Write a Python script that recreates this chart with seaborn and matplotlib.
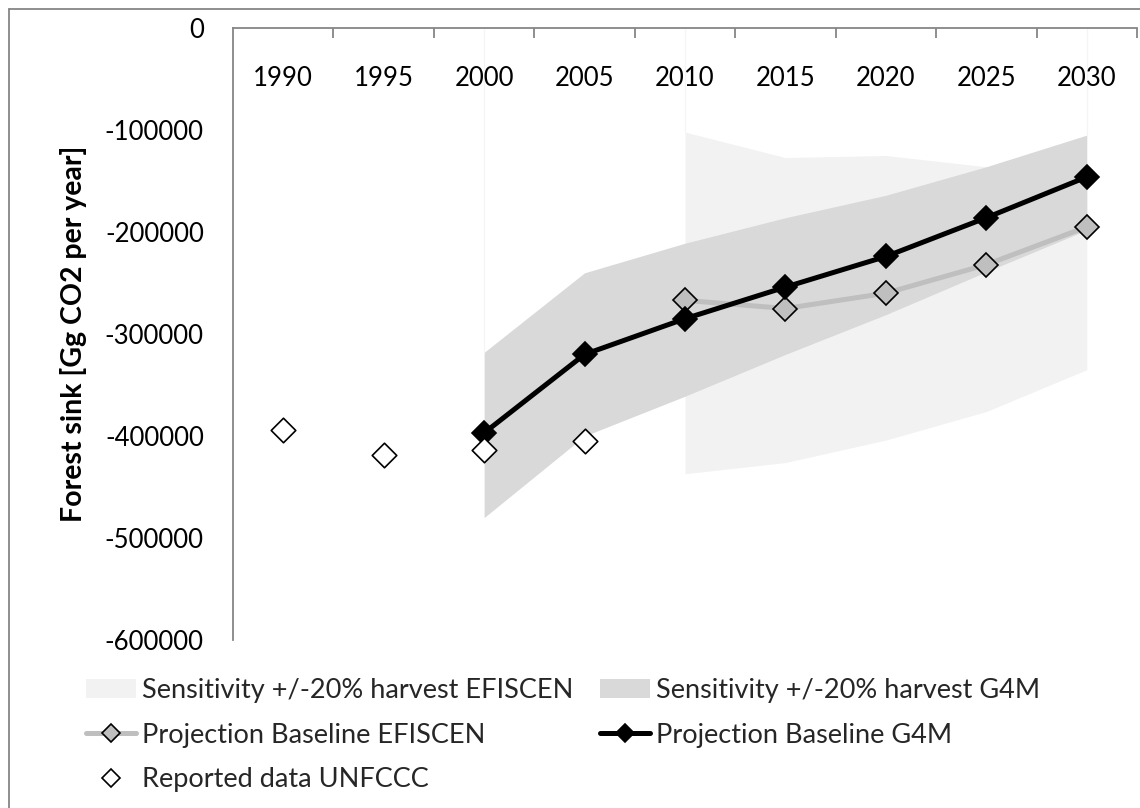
import numpy as np
import pandas as pd
import matplotlib
matplotlib.use("Agg")
import matplotlib.pyplot as plt
import seaborn as sns
from matplotlib.lines import Line2D
from matplotlib.patches import Patch
from matplotlib.ticker import FuncFormatter

# ---------------- data ----------------
years = ["1990", "1995", "2000", "2005", "2010", "2015", "2020", "2025", "2030"]
nan = np.nan
g4m_baseline = [nan, nan, -397000, -320000, -285000, -254000, -224000, -186000, -146000]
efiscen_baseline = [nan, nan, nan, nan, -267000, -275000, -260000, -232000, -195000]
unfccc_reported = [-394000, -419000, -414000, -405000, nan, nan, nan, nan, nan]
g4m_band_high = [nan, nan, -318000, -240000, -211000, -186000, -164000, -136000, -105000]
g4m_band_low = [nan, nan, -480000, -400000, -361000, -320000, -281000, -239000, -198000]
efiscen_band_high = [nan, nan, nan, nan, -102000, -127000, -125000, -136000, -140000]
efiscen_band_low = [nan, nan, nan, nan, -437000, -426000, -404000, -376000, -335000]

y_ticks = [0, -100000, -200000, -300000, -400000, -500000, -600000]

lbl_sens_ef = "Sensitivity +/-20% harvest EFISCEN"
lbl_sens_g4m = "Sensitivity +/-20% harvest G4M"
lbl_proj_ef = "Projection Baseline EFISCEN"
lbl_proj_g4m = "Projection Baseline G4M"
lbl_rep = "Reported data UNFCCC"
y_title = "Forest sink [Gg CO2 per year]"

# ---------------- style ----------------
sns.set_theme(style="white")
plt.rcParams["font.family"] = ["Lato", "DejaVu Sans"]

W, H = 1140, 808
fig = plt.figure(figsize=(W / 100, H / 100), dpi=100)
ax = fig.add_axes([233 / W, 1 - 640 / H, (1137 - 233) / W, (640 - 28) / H])

x = np.arange(len(years))
df = pd.DataFrame({
    "x": x, "year": years,
    "g4m": g4m_baseline, "efiscen": efiscen_baseline, "unfccc": unfccc_reported,
    "g4m_hi": g4m_band_high, "g4m_lo": g4m_band_low,
    "ef_hi": efiscen_band_high, "ef_lo": efiscen_band_low,
})

C_LIGHT = "#F2F2F2"
C_DARK = "#D9D9D9"
C_EFLINE = "#BFBFBF"
C_AXIS = "#868686"

# bands
ax.fill_between(df["x"], df["ef_lo"], df["ef_hi"], color=C_LIGHT, lw=0, zorder=1)
ax.fill_between(df["x"], df["g4m_lo"], df["g4m_hi"], color=C_DARK, lw=0, zorder=2)

# faint edges of the band areas (Excel artefact)
ef_ok = df.dropna(subset=["ef_hi"])
g4_ok = df.dropna(subset=["g4m_hi"])
ax.vlines([g4_ok["x"].iloc[0]], g4_ok["g4m_hi"].iloc[0], 0, color="#F5F5F5", lw=1, zorder=0.5)
ax.vlines([ef_ok["x"].iloc[0]], ef_ok["ef_hi"].iloc[0], 0, color="#F5F5F5", lw=1, zorder=0.5)
ax.vlines([g4_ok["x"].iloc[-1]], g4_ok["g4m_hi"].iloc[-1], 0, color="#F5F5F5", lw=1, zorder=0.5)

# lines
sns.lineplot(data=df.dropna(subset=["efiscen"]), x="x", y="efiscen", ax=ax,
             color=C_EFLINE, lw=3.6, marker="D", ms=12.5, mfc=C_EFLINE,
             mec="black", mew=1.2, zorder=3)
sns.lineplot(data=df.dropna(subset=["g4m"]), x="x", y="g4m", ax=ax,
             color="black", lw=3.6, marker="D", ms=12.5, mfc="black",
             mec="black", mew=1.2, zorder=4)
sns.scatterplot(data=df.dropna(subset=["unfccc"]), x="x", y="unfccc", ax=ax,
                marker="D", s=156, color="white", edgecolor="black",
                linewidth=1.2, zorder=5)

# axes
ax.set_xlim(-0.5, len(years) - 0.5)
ax.set_ylim(min(y_ticks), max(y_ticks))
ax.set_xlabel("")
ax.set_ylabel("")
for s in ["right", "bottom"]:
    ax.spines[s].set_visible(False)
for s in ["left", "top"]:
    ax.spines[s].set_color(C_AXIS)
    ax.spines[s].set_linewidth(1.3)

ax.xaxis.tick_top()
ax.set_xticks(x + 0.5)
ax.set_xticklabels([])
ax.set_xticks(x, minor=True)
ax.set_xticklabels(years, minor=True)
ax.tick_params(axis="x", which="major", direction="in", length=7, width=1.3,
               color=C_AXIS, top=True, bottom=False, labeltop=False, labelbottom=False)
ax.tick_params(axis="x", which="minor", length=0, top=True, bottom=False,
               labeltop=True, labelbottom=False, pad=-45.5, labelsize=18.5, labelcolor="black")

ax.set_yticks(y_ticks)
ax.yaxis.set_major_formatter(FuncFormatter(lambda v, p: f"{int(round(v))}"))
ax.tick_params(axis="y", length=0, pad=21, labelsize=18.5, labelcolor="black", left=True)

ax.set_ylabel(y_title, fontsize=20.5, fontweight="bold", color="black")
ax.yaxis.set_label_coords(-0.162, 0.5)
ax.grid(False)

# legend
h_sens_ef = Patch(facecolor=C_LIGHT, edgecolor="none", label=lbl_sens_ef)
h_proj_ef = Line2D([], [], color=C_EFLINE, lw=3.6, marker="D", ms=12.5, mfc=C_EFLINE,
                   mec="black", mew=1.2, label=lbl_proj_ef)
h_rep = Line2D([], [], color="none", lw=0, marker="D", ms=12.5, mfc="white",
               mec="black", mew=1.2, label=lbl_rep)
h_sens_g4 = Patch(facecolor=C_DARK, edgecolor="none", label=lbl_sens_g4m)
h_proj_g4 = Line2D([], [], color="black", lw=3.6, marker="D", ms=12.5, mfc="black",
                   mec="black", mew=1.2, label=lbl_proj_g4m)

leg_kw = dict(loc="upper left", frameon=False, fontsize=19.5, handlelength=1.85,
              handletextpad=0.2, labelspacing=0.72, borderaxespad=0, borderpad=0,
              markerscale=0.72, bbox_transform=fig.transFigure)
leg1 = fig.legend(handles=[h_sens_ef, h_proj_ef, h_rep],
                  bbox_to_anchor=(86 / W, 1 - 678 / H), **leg_kw)
leg2 = fig.legend(handles=[h_sens_g4, h_proj_g4],
                  bbox_to_anchor=(600 / W, 1 - 678 / H), **leg_kw)

# chart-area border (left and top visible)
fig.add_artist(Line2D([9 / W, 9 / W], [0, 1 - 9 / H], transform=fig.transFigure,
                      color=C_AXIS, lw=1.3))
fig.add_artist(Line2D([9 / W, 1], [1 - 9 / H, 1 - 9 / H], transform=fig.transFigure,
                      color=C_AXIS, lw=1.3))

fig.savefig("out.png", dpi=100, facecolor="white")
